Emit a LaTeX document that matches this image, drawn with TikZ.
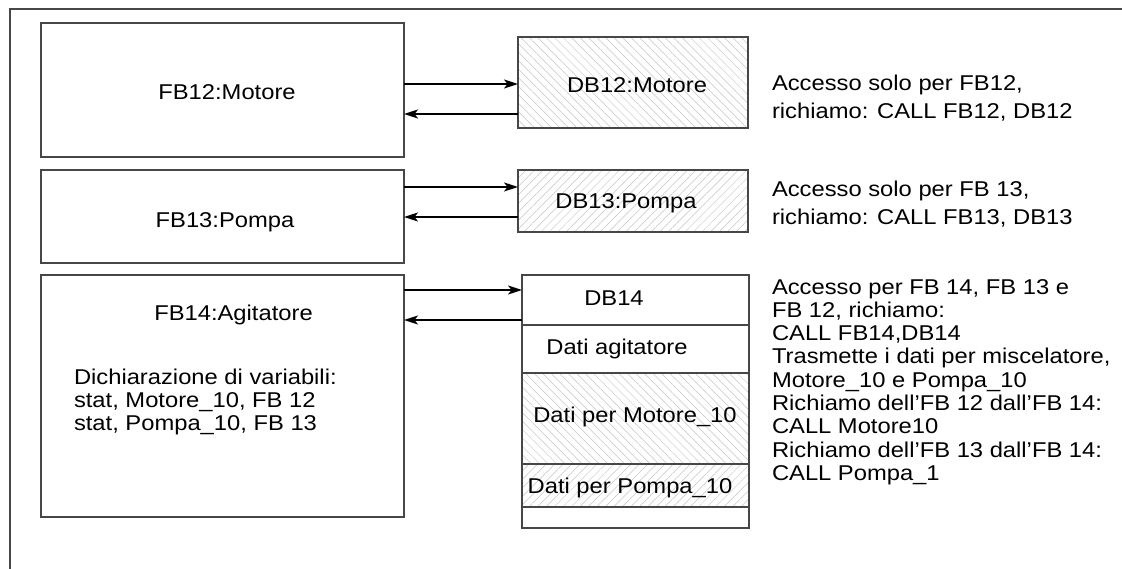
\documentclass[tikz,border=0pt]{standalone}
\usepackage{fontspec}
\setmainfont{Liberation Sans}[FakeStretch=1.11]
\usetikzlibrary{arrows.meta,patterns.meta}
\definecolor{edge}{HTML}{474747}
\definecolor{hatch}{HTML}{C4C4C4}
\begin{document}
\begin{tikzpicture}[x=1pt,y=-1pt,
  font=\fontsize{21.4}{23.3}\selectfont,
  blk/.style={draw=edge,line width=1.1pt,outer sep=0pt,inner sep=0pt},
  hatchnw/.style={pattern={Lines[angle=-45,distance=6pt,line width=0.5pt]},pattern color=hatch},
  hatchne/.style={pattern={Lines[angle=45,distance=6pt,line width=0.5pt]},pattern color=hatch},
  lbl/.style={inner sep=0pt,outer sep=0pt},
  note/.style={inner sep=0pt,outer sep=0pt,align=left,anchor=west},
  arr/.style={draw=black,line width=1.8pt,-{Stealth[length=14pt,width=9pt,inset=3.5pt]}}]
\useasboundingbox (0,0) rectangle (1122,569);

% open frame along the left and top edges
\draw[edge,line width=1.3pt] (10,569) -- (10,9) -- (1122,9);

% function blocks
\node[blk,minimum width=363pt,minimum height=134pt] (fb12) at (222.5,90) {};
\node[lbl] (fb12t) at (227,92) {FB12:Motore};
\node[blk,minimum width=363pt,minimum height=93pt] (fb13) at (222.5,216.5) {};
\node[lbl] (fb13t) at (225,222) {FB13:Pompa};
\node[blk,minimum width=363pt,minimum height=242pt] (fb14) at (222.5,396) {};
\node[lbl] (fb14t) at (233.5,315) {FB14:Agitatore};
\node[note,align=left] (decl) at (74,402)
  {Dichiarazione di variabili:\\stat, Motore\_10, FB 12\\stat, Pompa\_10, FB 13};

% instance data blocks
\node[blk,hatchnw,minimum width=230pt,minimum height=91pt] (db12) at (633,82.5) {};
\node[lbl] (db12t) at (637,85) {DB12:Motore};
\node[blk,hatchne,minimum width=230pt,minimum height=62pt] (db13) at (633,201) {};
\node[lbl] (db13t) at (626,203) {DB13:Pompa};

% DB14 with its sections
\node[blk,minimum width=227pt,minimum height=50pt] (db14) at (635.5,300) {};
\node[lbl] (db14t) at (614,298) {DB14};
\node[blk,minimum width=227pt,minimum height=48pt] (agit) at (635.5,349) {};
\node[lbl] (agitt) at (617,349) {Dati agitatore};
\node[blk,hatchnw,minimum width=227pt,minimum height=91pt] (mot) at (635.5,418.5) {};
\node[lbl] (mott) at (635,417) {Dati per Motore\_10};
\node[blk,hatchne,minimum width=227pt,minimum height=43pt] (pom) at (635.5,485.5) {};
\node[lbl] (pomt) at (630,488) {Dati per Pompa\_10};
\node[blk,minimum width=227pt,minimum height=21pt] (pad) at (635.5,517.5) {};

% data exchange arrows
\draw[arr] (fb12.east |- 0,84) -- (db12.west |- 0,84);
\draw[arr] (db12.west |- 0,114) -- (fb12.east |- 0,114);
\draw[arr] (fb13.east |- 0,187) -- (db13.west |- 0,187);
\draw[arr] (db13.west |- 0,217) -- (fb13.east |- 0,217);
\draw[arr] (fb14.east |- 0,290) -- (db14.west |- 0,290);
\draw[arr] (db14.west |- 0,320) -- (fb14.east |- 0,320);

% access notes
\begin{scope}[font=\fontsize{21.4}{28}\selectfont]
\node[note] (n12) at (772,98) {Accesso solo per FB12,\\richiamo: CALL FB12, DB12};
\node[note] (n13) at (772,204) {Accesso solo per FB 13,\\richiamo: CALL FB13, DB13};
\end{scope}
\node[note] (n14) at (772,382)
  {Accesso per FB 14, FB 13 e\\FB 12, richiamo:\\CALL FB14,DB14\\Trasmette i dati per miscelatore,\\Motore\_10 e Pompa\_10\\Richiamo dell’FB 12 dall’FB 14:\\CALL Motore10\\Richiamo dell’FB 13 dall’FB 14:\\CALL Pompa\_1};
\end{tikzpicture}
\end{document}
